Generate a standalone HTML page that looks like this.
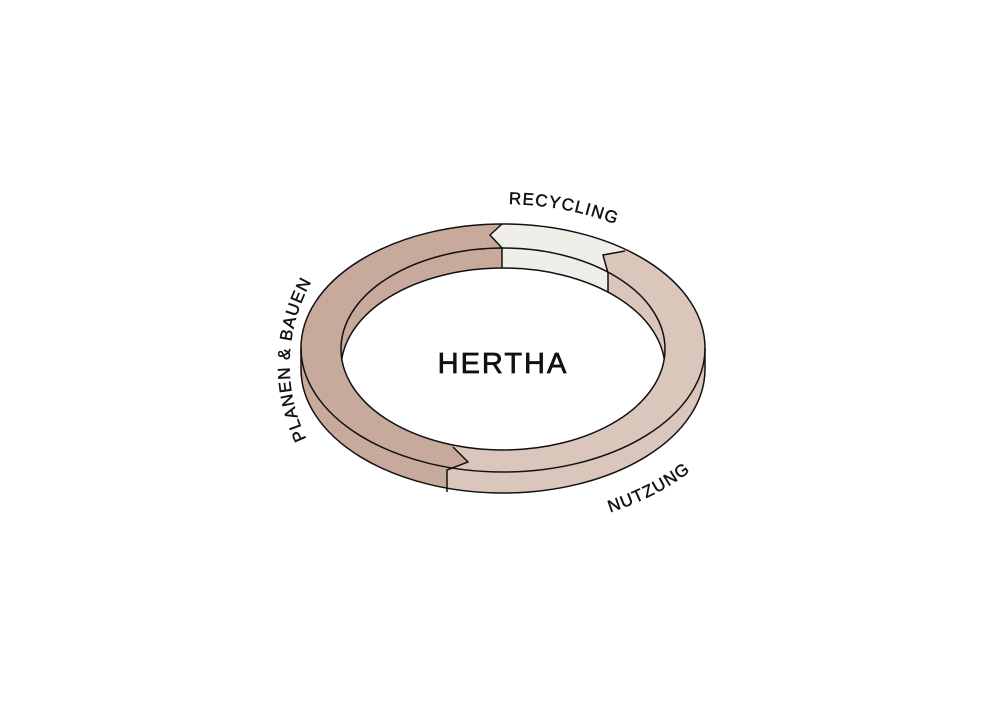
<!DOCTYPE html>
<html><head><meta charset="utf-8"><style>
html,body{margin:0;padding:0;background:#fff;width:1000px;height:712px;overflow:hidden}
svg{display:block}
text{font-family:"Liberation Sans","DejaVu Sans",sans-serif;fill:#111}
</style></head><body>
<svg width="1000" height="712" viewBox="0 0 1000 712" xmlns="http://www.w3.org/2000/svg">
<defs>
<clipPath id="body">
<ellipse cx="503" cy="348" rx="202" ry="124"/>
<ellipse cx="503" cy="369" rx="202" ry="124"/>
<rect x="301" y="348" width="404" height="21"/>
</clipPath>
<clipPath id="inner"><ellipse cx="503" cy="349" rx="162" ry="101"/></clipPath>
</defs>
<g clip-path="url(#body)">
<rect x="250" y="150" width="500" height="400" fill="#dac6ba"/>
<polygon fill="#c8aa9c" points="502,150 502,224 490,235 502,248 502,300 453,447 468,462 447,470 447,530 250,530 250,150"/>
<polygon fill="#efeee9" points="502,150 502,224 490,235 502,248 502,300 608,300 608,273 603,255 625,251 720,150"/>
</g>
<g clip-path="url(#inner)">
<ellipse cx="503" cy="369" rx="162" ry="101" fill="#fff" stroke="#111" stroke-width="1.5"/>
</g>
<g fill="none" stroke="#111" stroke-width="1.5">
<ellipse cx="503" cy="348" rx="202" ry="124"/>
<ellipse cx="503" cy="349" rx="162" ry="101"/>
<path d="M301,348 L301,369 A202,124 0 0,0 705,369 L705,348"/>
<polyline points="502,224 490,235 502,248 502,268"/>
<polyline points="625,251 603,255 608,273 608,292"/>
<polyline points="453,447 468,462 447,470 447,492"/>
</g>
<text x="503" y="373" text-anchor="middle" font-size="29" letter-spacing="2" stroke="#111" stroke-width="0.7">HERTHA</text>
<path id="pRec" d="M440,210 A222,146 0 0,1 696,278" fill="none"/>
<path id="pPlan" d="M348,495 A213,189 0 0,1 348,235" fill="none"/>
<path id="pNut" d="M540,527 A250,170 0 0,0 740,413" fill="none"/>
<g font-size="17" letter-spacing="1.2" stroke="#111" stroke-width="0.45">
<text><textPath href="#pRec" startOffset="45%" text-anchor="middle">RECYCLING</textPath></text>
<text><textPath href="#pPlan" startOffset="52%" text-anchor="middle">PLANEN &amp; BAUEN</textPath></text>
<text><textPath href="#pNut" startOffset="49%" text-anchor="middle">NUTZUNG</textPath></text>
</g>
</svg>
</body></html>
